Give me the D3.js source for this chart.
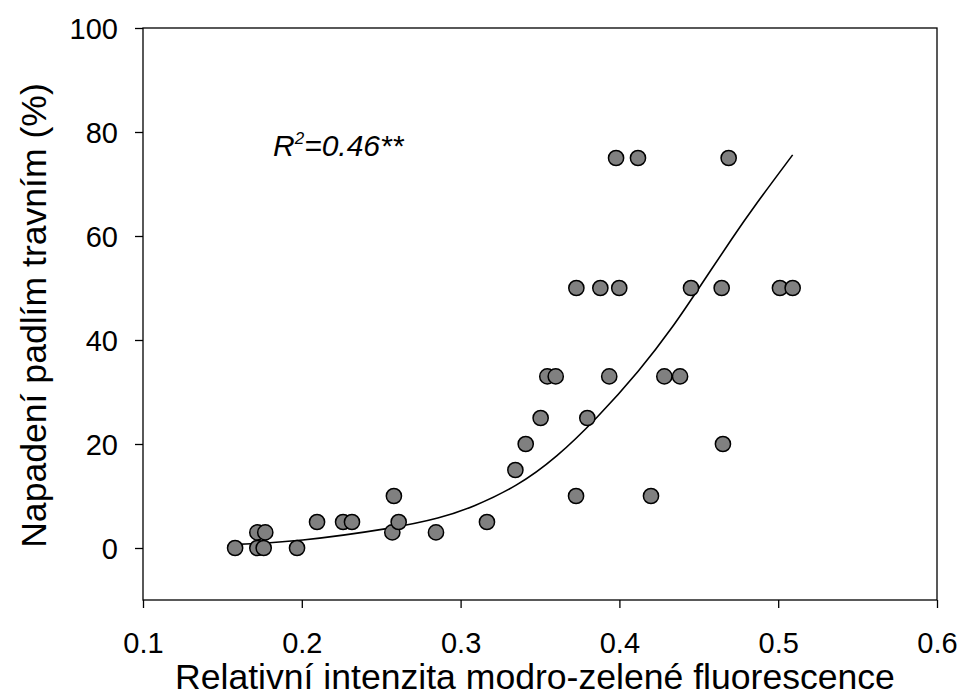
<!DOCTYPE html>
<html>
<head>
<meta charset="utf-8">
<script src="https://cdn.jsdelivr.net/npm/d3@7"></script>
<style>
  html, body { margin: 0; padding: 0; background: #fff; }
  svg { display: block; font-family: Arial, "Liberation Sans", sans-serif; }
</style>
</head>
<body>
<svg id="chart" width="963" height="697"></svg>
<script>
// Observations: relative blue-green fluorescence vs. powdery mildew infection (%)
const fluorescence = [
  0.158, 0.172, 0.176, 0.197,
  0.172, 0.177, 0.257, 0.2845,
  0.2096, 0.226, 0.2316, 0.261, 0.3166,
  0.258, 0.3727, 0.4199,
  0.3345,
  0.341, 0.4652,
  0.3504, 0.3798,
  0.3546, 0.3599, 0.3936, 0.4283, 0.4382,
  0.3729, 0.388, 0.3999, 0.4451, 0.4644, 0.5011, 0.5091,
  0.3979, 0.4117, 0.4688
];
const infection = [
  0, 0, 0, 0,
  3, 3, 3, 3,
  5, 5, 5, 5, 5,
  10, 10, 10,
  15,
  20, 20,
  25, 25,
  33, 33, 33, 33, 33,
  50, 50, 50, 50, 50, 50, 50,
  75, 75, 75
];

// Fitted regression curve (control points along the fit)
const fitX = [0.158, 0.197, 0.2576, 0.287, 0.308, 0.3353, 0.3605, 0.3857, 0.413, 0.434, 0.4508, 0.4717, 0.4844, 0.5091];
const fitY = [0.7, 1.2, 3.8, 5.7, 7.9, 11.8, 17.4, 24.9, 34.2, 42.6, 50.3, 59.9, 65.5, 75.6];

const xTicks = [0.1, 0.2, 0.3, 0.4, 0.5, 0.6];
const yTicks = [0, 20, 40, 60, 80, 100];

const xTitle = "Relativní intenzita modro-zelené fluorescence";
const yTitle = "Napadení padlím travním (%)";

const svg = d3.select("#chart");
const plot = { left: 143, right: 937, top: 28, bottom: 600 };

const x = d3.scaleLinear().domain([0.1, 0.6]).range([plot.left, plot.right]);
const y = d3.scaleLinear().domain([-10, 100]).range([plot.bottom, plot.top]);

// Frame
svg.append("rect")
  .attr("x", plot.left).attr("y", plot.top)
  .attr("width", plot.right - plot.left).attr("height", plot.bottom - plot.top)
  .attr("fill", "none").attr("stroke", "#000").attr("stroke-width", 1.3);

// Axes
const xAxis = svg.append("g")
  .attr("transform", `translate(0,${plot.bottom})`)
  .call(d3.axisBottom(x).tickValues(xTicks).tickSize(8).tickPadding(24)
    .tickFormat(d3.format(".1f")));
const yAxis = svg.append("g")
  .attr("transform", `translate(${plot.left},0)`)
  .call(d3.axisLeft(y).tickValues(yTicks).tickSize(8).tickPadding(17)
    .tickFormat(d3.format("d")));

[xAxis, yAxis].forEach(g => {
  g.select(".domain").remove();
  g.selectAll(".tick line").attr("stroke", "#000").attr("stroke-width", 1.3);
  g.selectAll(".tick text")
    .attr("fill", "#000")
    .style("font-size", "29px")
    .style("font-family", "Arial, 'Liberation Sans', sans-serif");
});
yAxis.selectAll(".tick text").attr("dy", "0.36em");
xAxis.selectAll(".tick text").attr("dy", "0.71em");

// Fitted curve
const fit = fitX.map((v, i) => [v, fitY[i]]);
svg.append("path")
  .datum(fit)
  .attr("fill", "none")
  .attr("stroke", "#000")
  .attr("stroke-width", 1.6)
  .attr("d", d3.line().x(d => x(d[0])).y(d => y(d[1])).curve(d3.curveBasis));

// Scatter points
svg.append("g").selectAll("circle")
  .data(fluorescence.map((v, i) => [v, infection[i]]))
  .join("circle")
  .attr("cx", d => x(d[0]))
  .attr("cy", d => y(d[1]))
  .attr("r", 7.6)
  .attr("fill", "#808080")
  .attr("stroke", "#000")
  .attr("stroke-width", 1.5);

// Coefficient of determination
const r2 = svg.append("text")
  .attr("x", 273).attr("y", 156)
  .style("font-size", "30px")
  .style("font-style", "italic")
  .attr("fill", "#000");
r2.append("tspan").text("R");
r2.append("tspan").attr("dy", -12).style("font-size", "17px").text("2");
r2.append("tspan").attr("dy", 12).text("=0.46**");

// Axis titles
svg.append("text")
  .attr("x", 535).attr("y", 689)
  .attr("text-anchor", "middle")
  .style("font-size", "35.6px")
  .attr("fill", "#000")
  .text(xTitle);

svg.append("text")
  .attr("transform", "translate(46,315.5) rotate(-90)")
  .attr("text-anchor", "middle")
  .style("font-size", "35.6px")
  .attr("fill", "#000")
  .text(yTitle);
</script>
</body>
</html>
